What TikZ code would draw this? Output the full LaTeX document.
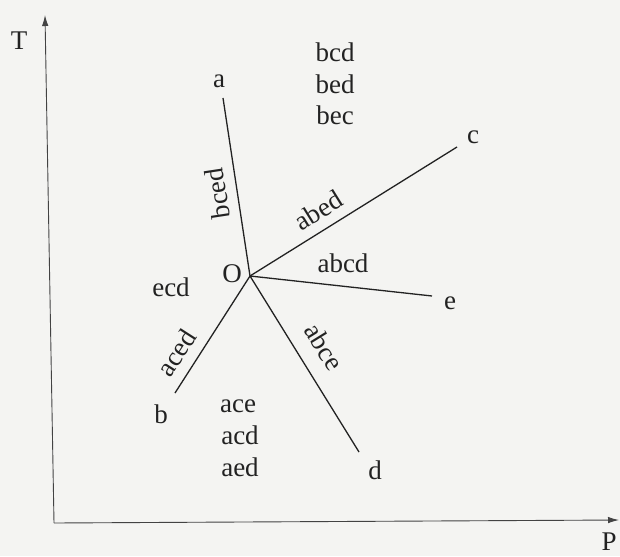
\documentclass[tikz,border=0pt]{standalone}
\usepackage{fontspec}
\setmainfont{Liberation Serif}
\usetikzlibrary{arrows.meta}
\definecolor{ink}{HTML}{222222}
\definecolor{paper}{HTML}{F4F4F2}
\tikzset{
  lbl/.style={inner sep=1pt, text=ink, font=\fontsize{27}{30}\selectfont},
  ray/.style={draw=ink, line width=1.3pt},
  axis/.style={draw=ink!85, line width=0.9pt, -{Latex[length=11pt,width=6.5pt]}},
  slab/.style={lbl, sloped, allow upside down}
}
\begin{document}
\begin{tikzpicture}[x=1pt,y=-1pt]
\fill[paper] (0,0) rectangle (620,556);
\useasboundingbox (0,0) rectangle (620,556);
% axes
\coordinate (orig) at (54,523);
\coordinate (ttop) at (45,15);
\coordinate (pend) at (619,520);
\draw[axis] (orig) -- (ttop);
\draw[axis] (orig) -- (pend);
\node[lbl] (T) at (19,41) {T};
\node[lbl] (P) at (609,542) {P};
% rays
\coordinate (O) at (250,276);
\coordinate (ea) at (223,98);
\coordinate (ec) at (457,147);
\coordinate (ee) at (432,296);
\coordinate (ed) at (359,452);
\coordinate (eb) at (175,393);
\draw[ray] (O) -- (ea);
\draw[ray] (O) -- (ec);
\draw[ray] (O) -- (ee);
\draw[ray] (O) -- (ed);
\draw[ray] (O) -- (eb);
% end labels
\node[lbl] (Olab) at (232,274) {O};
\node[lbl] (a) at (219,81) {a};
\node[lbl] (c) at (473,137) {c};
\node[lbl] (e) at (450,303) {e};
\node[lbl] (d) at (375,470) {d};
\node[lbl] (b) at (161,414) {b};
% region labels
\node[lbl] (r1) at (335,52) {bcd};
\node[lbl] (r2) at (335,84) {bed};
\node[lbl] (r3) at (335,115) {bec};
\node[lbl] (r4) at (343,263) {abcd};
\node[lbl] (r5) at (171,287) {ecd};
\node[lbl] (r6) at (238,406) {ace};
\node[lbl] (r7) at (240,435) {acd};
\node[lbl] (r8) at (240,467) {aed};
% ray labels
\path (O) -- (ea) node[slab, pos=0.48, above=9pt] (l1) {bced};
\path (O) -- (ec) node[slab, pos=0.38, above=9pt] (l2) {abed};
\path (O) -- (ed) node[slab, pos=0.48, above=15pt] (l3) {abce};
\path (eb) -- (O) node[slab, pos=0.25, above=10pt] (l4) {aced};
\end{tikzpicture}
\end{document}
